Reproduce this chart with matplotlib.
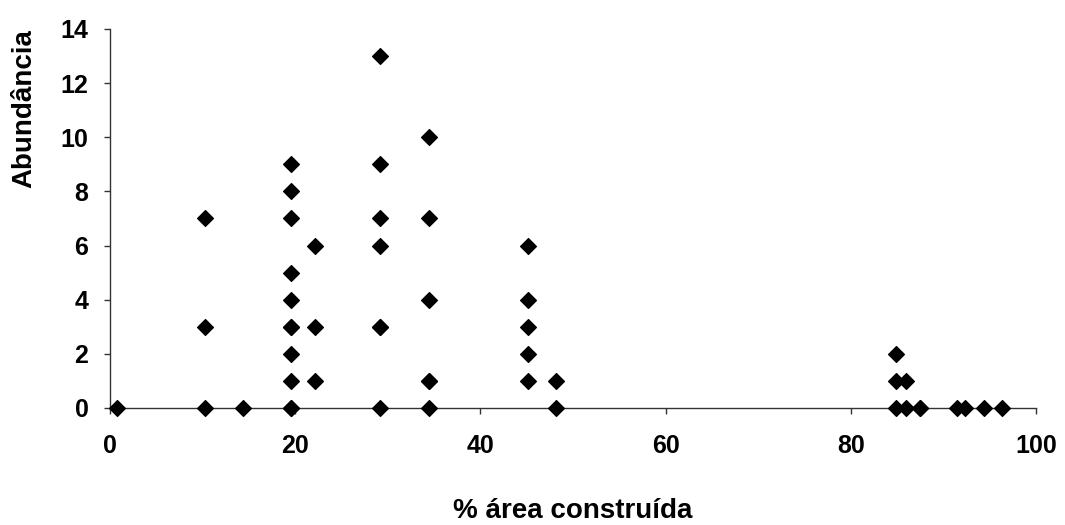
import matplotlib
matplotlib.use("Agg")
import matplotlib.pyplot as plt

plt.rcParams['font.family'] = ['Liberation Sans', 'DejaVu Sans']

# % área construída
x_vals = [0.8,
          10.3, 10.3, 10.3,
          14.4,
          19.5, 19.5, 19.5, 19.5, 19.5, 19.5, 19.5, 19.5, 19.5, 19.5, 19.5,
          22.1, 22.1, 22.1,
          29.2, 29.2, 29.2, 29.2, 29.2, 29.2, 29.2,
          34.4, 34.4, 34.4, 34.4, 34.4, 34.4,
          45.1, 45.1, 45.1, 45.1, 45.1,
          48.2, 48.2,
          84.9, 84.9, 84.9, 86.0, 86.0, 87.5, 87.5,
          91.5, 92.3, 94.4, 96.3]
# Abundância
y_vals = [0,
          7, 3, 0,
          0,
          9, 8, 7, 5, 4, 3, 3, 2, 1, 0, 0,
          6, 3, 1,
          13, 9, 7, 6, 3, 3, 0,
          10, 7, 4, 1, 1, 0,
          6, 4, 3, 2, 1,
          1, 0,
          2, 1, 0, 1, 0, 0, 0,
          0, 0, 0, 0]

x_ticks = [0, 20, 40, 60, 80, 100]
y_ticks = [0, 2, 4, 6, 8, 10, 12, 14]

fig = plt.figure(figsize=(10.65, 5.25), dpi=100)
ax = fig.add_axes([0.1033, 0.2229, 0.8695, 0.7219])
ax.scatter(x_vals, y_vals, marker='D', s=64, color='black', zorder=3, clip_on=False)

ax.set_xlim(0, 100)
ax.set_ylim(0, 14)
ax.set_xticks(x_ticks)
ax.set_yticks(y_ticks)
ax.spines['top'].set_visible(False)
ax.spines['right'].set_visible(False)
for sp in ('left', 'bottom'):
    ax.spines[sp].set_color('#333333')
    ax.spines[sp].set_linewidth(1.0)
ax.tick_params(axis='both', direction='out', length=4.5, width=1, color='#333333',
               labelsize=18)
ax.tick_params(axis='x', pad=14)
ax.tick_params(axis='y', pad=11)
for lab in ax.get_xticklabels() + ax.get_yticklabels():
    lab.set_fontweight('bold')
ax.set_xlabel('% área construída', fontsize=20, fontweight='bold', va='center')
ax.xaxis.set_label_coords(0.5, -0.272)
ax.set_ylabel('Abundância', fontsize=20, fontweight='bold', va='center', ha='center')
ax.yaxis.set_label_coords(-0.093, 0.79)

fig.savefig('out.png', dpi=100)
